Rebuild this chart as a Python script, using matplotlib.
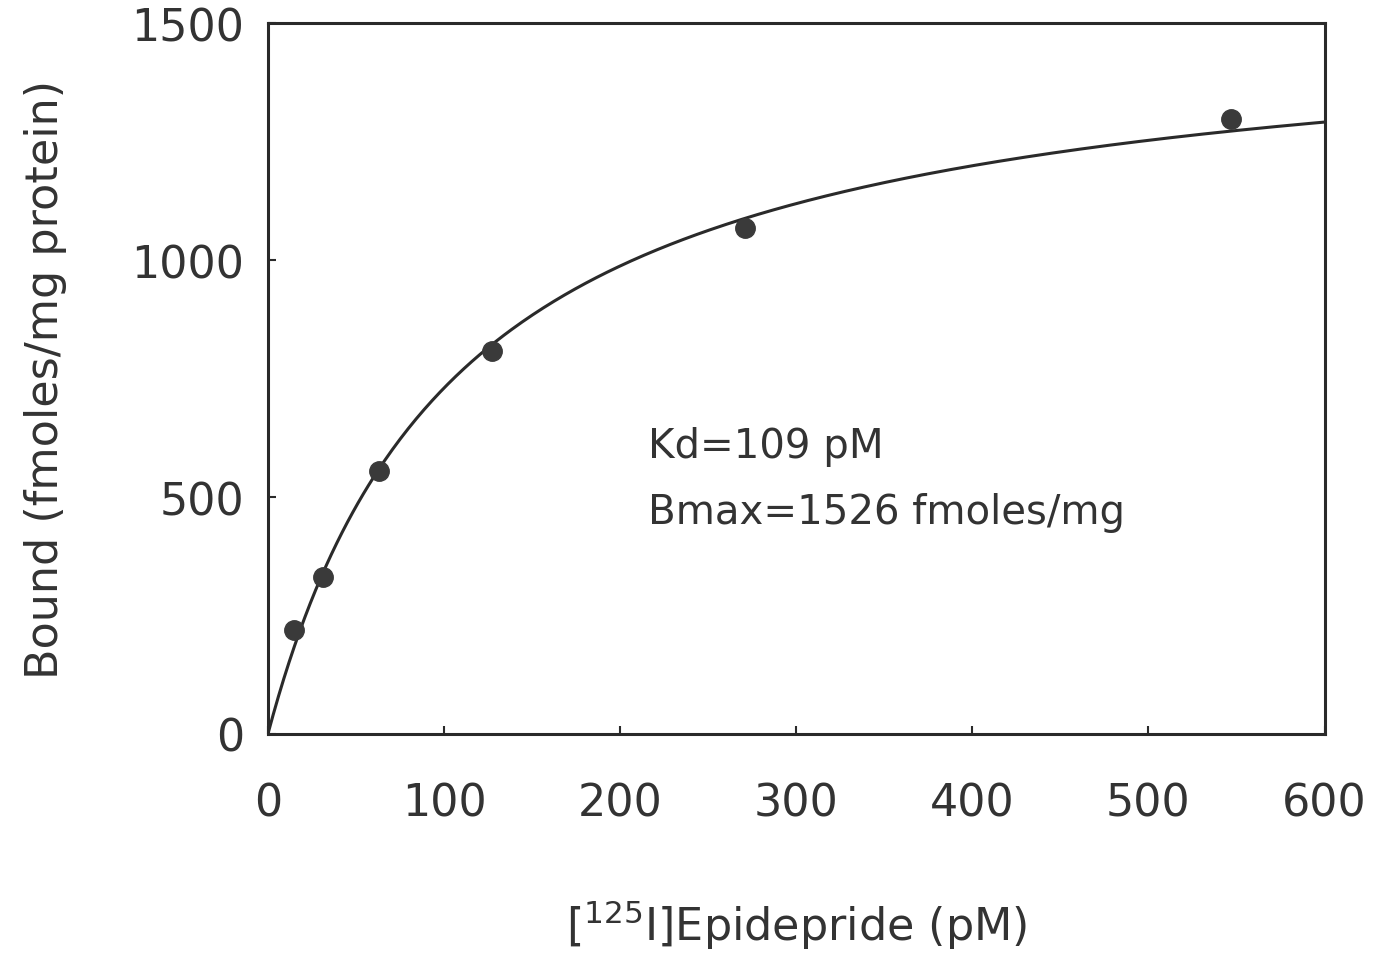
import numpy as np
import matplotlib
matplotlib.use("Agg")
import matplotlib.pyplot as plt

# Data
conc_pM = [15, 31, 63, 127, 271, 547]
bound = [219, 331, 555, 808, 1067, 1297]

# Fit parameters stated on the chart
Kd = 109
Bmax = 1526

xticks = [0, 100, 200, 300, 400, 500, 600]
yticks = [0, 500, 1000, 1500]

fig = plt.figure(figsize=(13.74, 9.54), dpi=100)
ax = fig.add_axes([0.195, 0.2296, 0.769, 0.745])

xc = np.linspace(0, 600, 400)
ax.plot(xc, Bmax * xc / (Kd + xc), color="#2a2a2a", lw=2.2, zorder=2)
ax.plot(conc_pM, bound, "o", color="#3a3a3a", ms=14, zorder=3, clip_on=False)

ax.set_xlim(0, 600)
ax.set_ylim(0, 1500)
ax.set_xticks(xticks)
ax.set_yticks(yticks)
ax.tick_params(axis="both", direction="in", length=6, width=1.5, colors="#2a2a2a",
               labelsize=32, labelcolor="#333333")
ax.tick_params(axis="x", pad=34)
ax.tick_params(axis="y", pad=17)
for s in ax.spines.values():
    s.set_linewidth(2.2)
    s.set_color("#2a2a2a")

ax.set_ylabel("Bound (fmoles/mg protein)", fontsize=32, color="#333333", labelpad=46)
ax.set_xlabel(r"[$^{125}$I]Epidepride (pM)", fontsize=32, color="#333333", labelpad=53)

ax.text(216, 607, "Kd=109 pM", fontsize=29, color="#333333", va="center")
ax.text(216, 468, "Bmax=1526 fmoles/mg", fontsize=29, color="#333333", va="center")

fig.savefig("out.png", dpi=100)
